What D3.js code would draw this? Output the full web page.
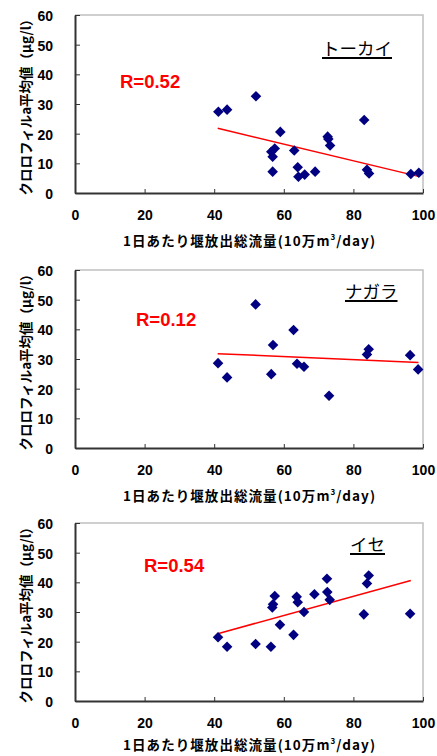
<!DOCTYPE html>
<html>
<head>
<meta charset="utf-8">
<script src="https://cdn.jsdelivr.net/npm/d3@7"></script>
<style>
  body { margin: 0; background: #fff; }
  #chart { width: 437px; height: 756px; }
</style>
</head>
<body>
<div id="chart"></div>
<script>
// Datos: caudal diario (10万m3/day) y clorofila a media (μg/l)
const tokaiX = [41.2, 43.7, 52.0, 83.1, 59.0, 72.6, 72.8, 73.3, 56.4, 57.4, 56.8, 63.0, 56.8, 64.0, 64.2, 66.0, 69.0, 83.9, 84.5, 96.5, 98.8];
const tokaiY = [27.4, 28.1, 32.6, 24.6, 20.6, 19.0, 18.2, 16.0, 13.9, 15.0, 12.2, 14.3, 7.2, 8.7, 5.5, 6.2, 7.2, 7.8, 6.6, 6.4, 6.8];

const nagaraX = [41.1, 43.7, 51.9, 56.4, 56.9, 62.8, 63.8, 65.8, 73.0, 83.9, 84.4, 96.3, 98.6];
const nagaraY = [28.6, 23.8, 48.4, 24.9, 34.7, 39.8, 28.4, 27.4, 17.6, 31.5, 33.3, 31.3, 26.5];

const iseX = [41.1, 43.7, 51.9, 56.3, 57.4, 56.9, 56.7, 58.9, 62.8, 63.7, 64.0, 65.8, 68.8, 72.4, 72.5, 73.2, 83.0, 83.9, 84.4, 96.3];
const iseY = [21.5, 18.3, 19.2, 18.3, 35.4, 32.6, 31.5, 25.7, 22.3, 35.1, 33.3, 30.0, 36.0, 41.2, 36.7, 34.1, 29.2, 39.6, 42.3, 29.4];

// Rectas de tendencia (extremos)
const trendX = [[41, 98.7], [41, 98.7], [41, 96.5]];
const trendY = [[21.8, 5.6], [31.8, 28.8], [22.7, 40.6]];

const panelNames = ['トーカイ', 'ナガラ', 'イセ'];
const rLabels = ['R=0.52', 'R=0.12', 'R=0.54'];
const xTicks = [0, 20, 40, 60, 80, 100];
const yTicks = [0, 10, 20, 30, 40, 50, 60];

const xTitle = '1日あたり堰放出総流量(10万m';
const yTitle = 'クロロフィルa平均値（μg/l）';

// Posiciones de cada panel
const layout = [
  { top: 15,  name: { x: 322, y: 55 },  r: { x: 120, y: 88 },  xt: 246 },
  { top: 270, name: { x: 345, y: 298 }, r: { x: 136, y: 326 }, xt: 501 },
  { top: 523, name: { x: 350, y: 551 }, r: { x: 144, y: 572 }, xt: 750 }
];
const series = [[tokaiX, tokaiY], [nagaraX, nagaraY], [iseX, iseY]];

const left = 75, right = 423, plotH = 178;
const NUM_FONT = '"Liberation Sans", Arial, sans-serif';
const JP_FONT = '"Noto Sans CJK JP", sans-serif';

const svg = d3.select('#chart').append('svg')
  .attr('width', 437)
  .attr('height', 756);

svg.append('rect').attr('width', 437).attr('height', 756).attr('fill', '#fff');

const x = d3.scaleLinear().domain([0, 100]).range([left, right]);

layout.forEach(function(p, i) {
  const y = d3.scaleLinear().domain([0, 60]).range([p.top + plotH, p.top]);
  const g = svg.append('g');

  // marco gris (arriba y derecha)
  g.append('path')
    .attr('d', 'M' + left + ',' + p.top + 'H' + right + 'V' + (p.top + plotH))
    .attr('fill', 'none')
    .attr('stroke', '#c0c0c0')
    .attr('stroke-width', 1.5);

  // ejes
  const yAxis = g.append('g')
    .attr('transform', 'translate(' + left + ',0)')
    .call(d3.axisLeft(y).tickValues(yTicks).tickSize(-5).tickPadding(22).tickSizeOuter(0));
  const xAxis = g.append('g')
    .attr('transform', 'translate(0,' + (p.top + plotH) + ')')
    .call(d3.axisBottom(x).tickValues(xTicks).tickSize(-4).tickPadding(16).tickSizeOuter(0));

  [yAxis, xAxis].forEach(function(a) {
    a.select('.domain').attr('stroke', '#333').attr('stroke-width', 2);
    a.selectAll('.tick line').attr('stroke', '#333').attr('stroke-width', 1);
    a.selectAll('.tick text')
      .attr('font-family', NUM_FONT)
      .attr('font-weight', 'bold')
      .attr('font-size', 14)
      .attr('fill', '#000');
  });
  yAxis.selectAll('.tick text').attr('dy', '0.4em');
  xAxis.selectAll('.tick text').attr('dy', '0.75em');

  // recta de tendencia
  g.append('line')
    .attr('x1', x(trendX[i][0])).attr('y1', y(trendY[i][0]))
    .attr('x2', x(trendX[i][1])).attr('y2', y(trendY[i][1]))
    .attr('stroke', '#ff0000')
    .attr('stroke-width', 1.5);

  // puntos (rombos)
  const sx = series[i][0], sy = series[i][1];
  const diamond = d3.symbol().type(d3.symbolSquare).size(56);
  g.selectAll('path.pt')
    .data(d3.range(sx.length))
    .enter()
    .append('path')
    .attr('class', 'pt')
    .attr('d', diamond)
    .attr('transform', function(k) { return 'translate(' + x(sx[k]) + ',' + y(sy[k]) + ') rotate(45)'; })
    .attr('fill', '#000080');

  // nombre del panel subrayado
  const nm = g.append('text')
    .attr('x', p.name.x)
    .attr('y', p.name.y)
    .attr('font-family', JP_FONT)
    .attr('font-size', 17.5)
    .attr('fill', '#000')
    .text(panelNames[i]);
  const bb = nm.node().getBBox();
  g.append('line')
    .attr('x1', bb.x).attr('x2', bb.x + bb.width)
    .attr('y1', p.name.y + 3).attr('y2', p.name.y + 3)
    .attr('stroke', '#000')
    .attr('stroke-width', 2);

  // coeficiente R
  g.append('text')
    .attr('x', p.r.x)
    .attr('y', p.r.y)
    .attr('font-family', NUM_FONT)
    .attr('font-weight', 'bold')
    .attr('font-size', 18.5)
    .attr('fill', '#ff0000')
    .text(rLabels[i]);

  // título eje X
  const xt = g.append('text')
    .attr('x', 123)
    .attr('y', p.xt)
    .attr('font-family', JP_FONT)
    .attr('font-weight', 'bold')
    .attr('font-size', 13.5)
    .attr('fill', '#000')
    .attr('textLength', 252)
    .attr('lengthAdjust', 'spacing');
  xt.append('tspan').text(xTitle);
  xt.append('tspan').attr('font-size', 8).attr('dy', -6).text('3');
  xt.append('tspan').attr('dy', 6).text('/day)');

  // título eje Y
  g.append('text')
    .attr('transform', 'translate(31,' + (p.top + plotH / 2) + ') rotate(-90)')
    .attr('text-anchor', 'middle')
    .attr('font-family', JP_FONT)
    .attr('font-weight', 'bold')
    .attr('font-size', 13.5)
    .attr('fill', '#000')
    .attr('textLength', 183)
    .attr('lengthAdjust', 'spacingAndGlyphs')
    .text(yTitle);
});
</script>
</body>
</html>
